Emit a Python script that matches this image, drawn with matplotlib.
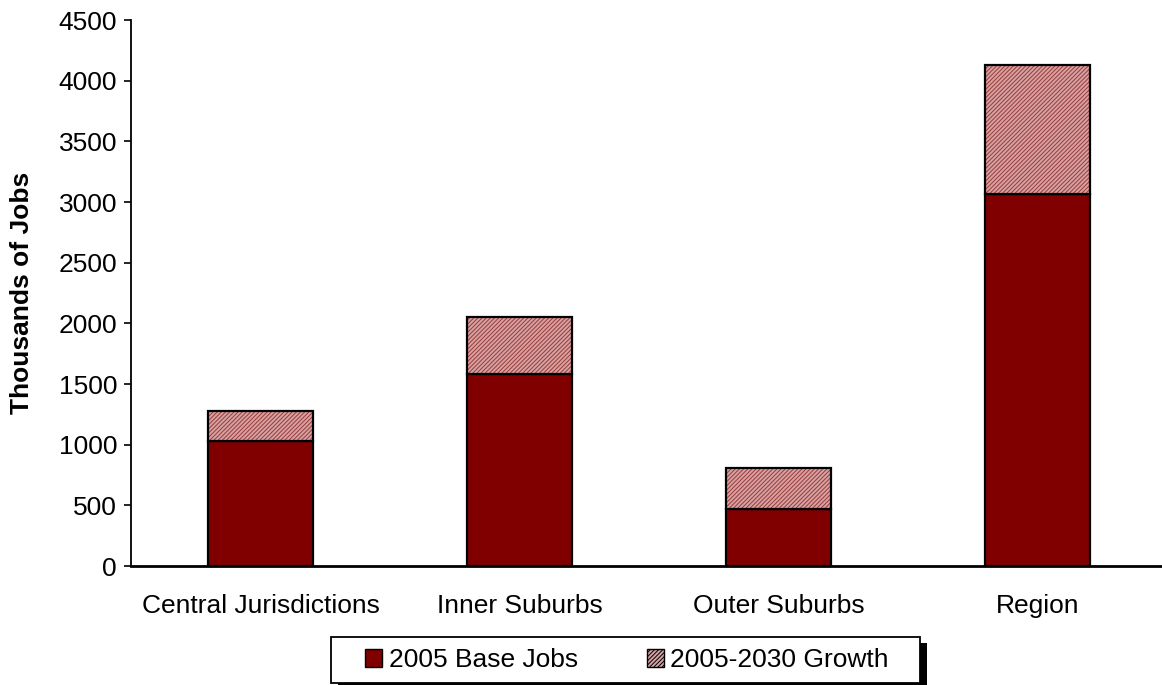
import numpy as np
import matplotlib.pyplot as plt
from matplotlib.patches import Patch, Rectangle

plt.rcParams['font.family'] = ['Liberation Sans', 'DejaVu Sans']
plt.rcParams['hatch.linewidth'] = 0.7

categories = ['Central Jurisdictions', 'Inner Suburbs', 'Outer Suburbs', 'Region']
base_jobs = [1030, 1583, 470, 3070]
growth = [248, 470, 338, 1060]

base_col = '#800000'
grow_face = '#d6a2a2'
grow_hatch = '#9a3a3a'

x = np.arange(len(categories))
w = 0.405

fig = plt.figure(figsize=(11.62, 6.85), dpi=100)
ax = fig.add_axes([0.1127, 0.1737, 0.8873, 0.7971])

ax.bar(x, base_jobs, w, color=base_col, edgecolor='black', linewidth=1.6)
# hatched growth: fill first, then outline
ax.bar(x, growth, w, bottom=base_jobs, facecolor=grow_face, edgecolor=grow_hatch,
       hatch='////////', linewidth=0)
ax.bar(x, growth, w, bottom=base_jobs, fill=False, edgecolor='black', linewidth=1.6)

ax.set_xlim(-0.5, 3.48)
ax.set_ylim(0, 4500)
ax.set_yticks(np.arange(0, 4501, 500))
ax.set_xticks(x)
ax.set_xticklabels(categories)
ax.tick_params(axis='x', length=0, labelsize=19, pad=20)
ax.tick_params(axis='y', length=5, width=1.2, labelsize=19, direction='out', pad=5)
ax.spines['top'].set_visible(False)
ax.spines['right'].set_visible(False)
ax.spines['left'].set_linewidth(1.3)
ax.spines['bottom'].set_linewidth(2)
ax.set_ylabel('Thousands of Jobs', fontsize=19, fontweight='bold', va='center')
ax.yaxis.set_label_coords(-0.1057, 0.5)

# legend box drawn by hand (wide side padding + solid black shadow)
fw, fh = 1162, 685
fig.patches.append(Rectangle((338 / fw, -4 / fh), 589 / fw, 46 / fh, transform=fig.transFigure,
                             facecolor='black', edgecolor='none', zorder=1))
fig.patches.append(Rectangle((331 / fw, 2 / fh), 589 / fw, 46 / fh, transform=fig.transFigure,
                             facecolor='white', edgecolor='black', linewidth=1.3, zorder=2))

handles = [Patch(facecolor=base_col, edgecolor='black', label='2005 Base Jobs'),
           Patch(facecolor=grow_face, edgecolor=grow_hatch, hatch='////////', label='2005-2030 Growth')]
leg = fig.legend(handles=handles, loc='center', bbox_to_anchor=(0.5396, 0.0365), ncol=2,
                 fontsize=19, frameon=False, handlelength=0.65, handleheight=0.65,
                 handletextpad=0.25, columnspacing=2.6, borderpad=0, borderaxespad=0)
for p in leg.get_patches():
    p.set_edgecolor('black')
leg.set_zorder(5)

fig.savefig('out.png', dpi=100)
